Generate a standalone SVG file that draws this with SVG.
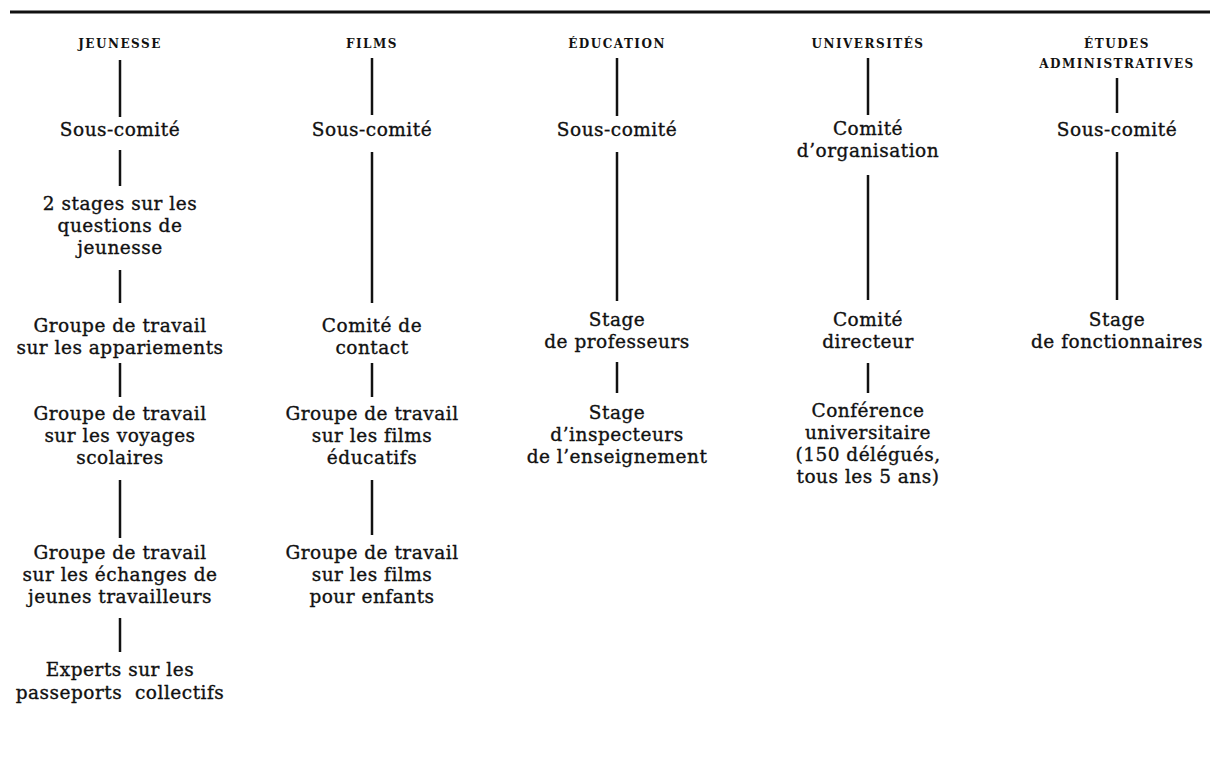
<svg xmlns="http://www.w3.org/2000/svg" width="1217" height="758" viewBox="0 0 1217 758">
<style>
.t{font-family:"DejaVu Serif","Liberation Serif",serif;font-size:18.5px;letter-spacing:0.5px;fill:#111;stroke:#111;stroke-width:0.35;text-anchor:middle}
.h{font-family:"DejaVu Serif","Liberation Serif",serif;font-size:12px;font-weight:bold;fill:#111;text-anchor:middle;letter-spacing:1.5px}
.c line{stroke:#111;stroke-width:2.5}
</style>
<rect width="1217" height="758" fill="#fff"/>
<line x1="10" y1="12" x2="1210" y2="12" stroke="#111" stroke-width="3"/>
<g class="c" id="connectors">
<line x1="120" y1="60" x2="120" y2="117"/>
<line x1="120" y1="150" x2="120" y2="186"/>
<line x1="120" y1="270" x2="120" y2="303"/>
<line x1="120" y1="363" x2="120" y2="397"/>
<line x1="120" y1="480" x2="120" y2="538"/>
<line x1="120" y1="618" x2="120" y2="652"/>
<line x1="372" y1="58" x2="372" y2="115"/>
<line x1="372" y1="152" x2="372" y2="303"/>
<line x1="372" y1="363" x2="372" y2="397"/>
<line x1="372" y1="480" x2="372" y2="535"/>
<line x1="617" y1="58" x2="617" y2="116"/>
<line x1="617" y1="152" x2="617" y2="301"/>
<line x1="617" y1="362" x2="617" y2="393"/>
<line x1="868" y1="58" x2="868" y2="115"/>
<line x1="868" y1="175" x2="868" y2="300"/>
<line x1="868" y1="363" x2="868" y2="393"/>
<line x1="1117" y1="78" x2="1117" y2="113"/>
<line x1="1117" y1="152" x2="1117" y2="300"/>
</g>
<g id="jeunesse">
<text class="h" x="120" y="48">JEUNESSE</text>
<text class="t" x="120" y="136">Sous-comité</text>
<text class="t" x="120" y="210">2 stages sur les</text>
<text class="t" x="120" y="232">questions de</text>
<text class="t" x="120" y="254">jeunesse</text>
<text class="t" x="120" y="332">Groupe de travail</text>
<text class="t" x="120" y="354">sur les appariements</text>
<text class="t" x="120" y="420">Groupe de travail</text>
<text class="t" x="120" y="442">sur les voyages</text>
<text class="t" x="120" y="464">scolaires</text>
<text class="t" x="120" y="559">Groupe de travail</text>
<text class="t" x="120" y="581">sur les échanges de</text>
<text class="t" x="120" y="603">jeunes travailleurs</text>
<text class="t" x="120" y="676">Experts sur les</text>
<text class="t" x="120" y="699" style="white-space:pre">passeports  collectifs</text>
</g>
<g id="films">
<text class="h" x="372" y="48">FILMS</text>
<text class="t" x="372" y="136">Sous-comité</text>
<text class="t" x="372" y="332">Comité de</text>
<text class="t" x="372" y="354">contact</text>
<text class="t" x="372" y="420">Groupe de travail</text>
<text class="t" x="372" y="442">sur les films</text>
<text class="t" x="372" y="464">éducatifs</text>
<text class="t" x="372" y="559">Groupe de travail</text>
<text class="t" x="372" y="581">sur les films</text>
<text class="t" x="372" y="603">pour enfants</text>
</g>
<g id="education">
<text class="h" x="617" y="48">ÉDUCATION</text>
<text class="t" x="617" y="136">Sous-comité</text>
<text class="t" x="617" y="326">Stage</text>
<text class="t" x="617" y="348">de professeurs</text>
<text class="t" x="617" y="419">Stage</text>
<text class="t" x="617" y="441">d’inspecteurs</text>
<text class="t" x="617" y="463">de l’enseignement</text>
</g>
<g id="universites">
<text class="h" x="868" y="48">UNIVERSITÉS</text>
<text class="t" x="868" y="135">Comité</text>
<text class="t" x="868" y="157">d’organisation</text>
<text class="t" x="868" y="326">Comité</text>
<text class="t" x="868" y="348">directeur</text>
<text class="t" x="868" y="417">Conférence</text>
<text class="t" x="868" y="439">universitaire</text>
<text class="t" x="868" y="461">(150 délégués,</text>
<text class="t" x="868" y="483">tous les 5 ans)</text>
</g>
<g id="etudes">
<text class="h" x="1117" y="48">ÉTUDES</text>
<text class="h" x="1117" y="68">ADMINISTRATIVES</text>
<text class="t" x="1117" y="136">Sous-comité</text>
<text class="t" x="1117" y="326">Stage</text>
<text class="t" x="1117" y="348">de fonctionnaires</text>
</g>
</svg>
